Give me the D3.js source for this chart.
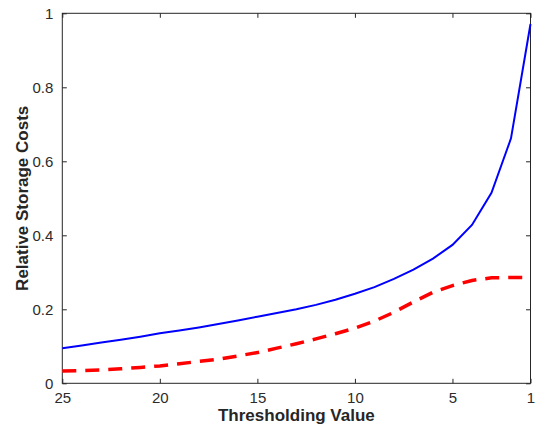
<!DOCTYPE html>
<html><head><meta charset="utf-8">
<script src="https://cdn.jsdelivr.net/npm/d3@7"></script>
<style>body{margin:0;background:#fff}svg text{font-family:"Liberation Sans",Arial,Helvetica,sans-serif}</style>
</head><body><svg id="c" width="535" height="429"></svg>
<script>
const thresholds = [25,24,23,22,21,20,19,18,17,16,15,14,13,12,11,10,9,8,7,6,5,4,3,2,1];
const blueSeries = [0.095,0.102,0.110,0.118,0.126,0.135,0.143,0.151,0.160,0.170,0.180,0.190,0.200,0.212,0.226,0.242,0.260,0.282,0.307,0.337,0.374,0.428,0.515,0.662,0.971];
const redSeries = [0.033,0.034,0.036,0.039,0.043,0.047,0.053,0.059,0.065,0.074,0.083,0.095,0.107,0.120,0.134,0.149,0.168,0.192,0.220,0.246,0.264,0.278,0.285,0.286,0.286];
const xTicks = [25,20,15,10,5,1];
const yTicks = [0,0.2,0.4,0.6,0.8,1];
const xLabel = "Thresholding Value";
const yLabel = "Relative Storage Costs";

const svg = d3.select("#c");
const L=62.3,R=530.5,T=13.3,B=383.3;
const x = d3.scaleLinear().domain([25,1]).range([L,R]);
const y = d3.scaleLinear().domain([0,1]).range([B,T]);
const axisColor="#262626";
const fmtY = d => d===0?"0":(d===1?"1":d3.format(".1f")(d));

const g = svg.append("g");
g.append("rect").attr("x",L).attr("y",T).attr("width",R-L).attr("height",B-T)
 .attr("fill","none").attr("stroke",axisColor).attr("stroke-width",1);

function style(sel){
  sel.select(".domain").remove();
  sel.selectAll(".tick line").attr("stroke",axisColor);
  sel.selectAll(".tick text").attr("fill","#2b2b2b").style("font-size","15px");
}
const tl=4.5;
g.append("g").attr("transform",`translate(0,${B})`)
 .call(d3.axisBottom(x).tickValues(xTicks).tickSize(-tl).tickPadding(9).tickFormat(d3.format("d")))
 .call(style);
g.append("g").attr("transform",`translate(0,${T})`)
 .call(d3.axisTop(x).tickValues(xTicks).tickSize(-tl).tickFormat(""))
 .call(style);
g.append("g").attr("transform",`translate(${L},0)`)
 .call(d3.axisLeft(y).tickValues(yTicks).tickSize(-tl).tickPadding(9).tickFormat(fmtY))
 .call(style);
g.append("g").attr("transform",`translate(${R},0)`)
 .call(d3.axisRight(y).tickValues(yTicks).tickSize(-tl).tickFormat(""))
 .call(style);
svg.selectAll(".tick text").attr("font-family",null);

const line = d3.line().x((d,i)=>x(thresholds[i])).y(d=>y(d));
g.append("path").datum(blueSeries).attr("d",line).attr("fill","none")
 .attr("stroke","#0000ff").attr("stroke-width",2);
g.append("path").datum(redSeries).attr("d",line).attr("fill","none")
 .attr("stroke","#ff0000").attr("stroke-width",3.5).attr("stroke-dasharray","14,9");

svg.append("text").attr("x",(L+R)/2).attr("y",420.5).attr("text-anchor","middle")
 .style("font-size","17px").style("font-weight","bold").attr("fill","#262626").text(xLabel);
svg.append("text").attr("transform",`translate(27.5,${(T+B)/2}) rotate(-90)`).attr("text-anchor","middle")
 .style("font-size","17px").style("font-weight","bold").attr("fill","#262626").text(yLabel);
</script></body></html>
